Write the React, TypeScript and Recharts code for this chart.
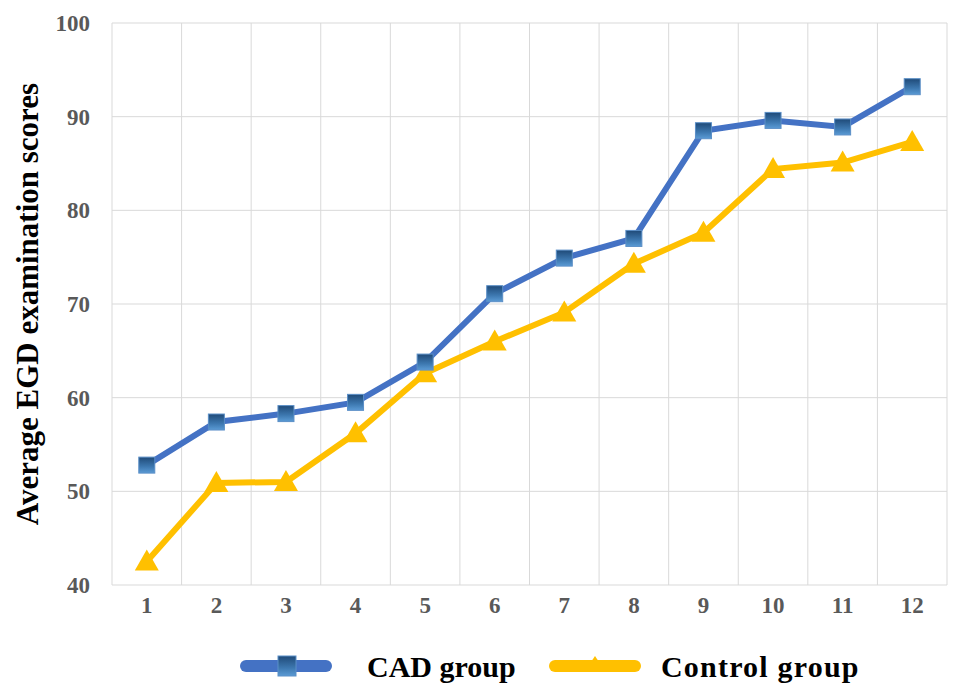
import { CartesianGrid, Legend, Line, LineChart, XAxis, YAxis } from "recharts";

const sessions = [1, 2, 3, 4, 5, 6, 7, 8, 9, 10, 11, 12];
const cadScores = [52.8, 57.4, 58.3, 59.5, 63.8, 71.1, 74.9, 77.0, 88.5, 89.6, 88.9, 93.2];
const controlScores = [42.5, 50.9, 51.0, 56.2, 62.6, 66.0, 69.1, 74.3, 77.6, 84.4, 85.1, 87.3];
const yTicks = [40, 50, 60, 70, 80, 90, 100];

const data = sessions.map((s, i) => ({
  session: s,
  cad: cadScores[i],
  control: controlScores[i],
}));

const FONT = '"Liberation Serif", "Times New Roman", serif';
const BLUE = "#4472c4";
const YELLOW = "#ffc000";

function SquareDot(props: any) {
  const { cx, cy } = props;
  if (cx == null || cy == null) return null;
  return (
    <rect
      x={cx - 8}
      y={cy - 8}
      width={16}
      height={16}
      fill="url(#cadSquare)"
      stroke="#5b8fc7"
      strokeWidth={1}
    />
  );
}

function TriangleDot(props: any) {
  const { cx, cy } = props;
  if (cx == null || cy == null) return null;
  return (
    <path
      d={`M${cx},${cy - 12} L${cx + 12},${cy + 9} L${cx - 12},${cy + 9} Z`}
      fill={YELLOW}
    />
  );
}

function LegendIcon({ color, kind }: { color: string; kind: "square" | "triangle" }) {
  return (
    <svg width={92} height={24} style={{ position: "absolute", top: 9 }}>
      <defs>
        <linearGradient id="legSquare" x1="0" y1="0" x2="0" y2="1">
          <stop offset="0%" stopColor="#1f4a78" />
          <stop offset="60%" stopColor="#3d78b0" />
          <stop offset="100%" stopColor="#5b9bd5" />
        </linearGradient>
      </defs>
      <line x1={6} y1={12} x2={86} y2={12} stroke={color} strokeWidth={12} strokeLinecap="round" />
      {kind === "square" ? (
        <rect x={38} y={2} width={18} height={20} fill="url(#legSquare)" stroke="#5b8fc7" />
      ) : (
        <path d="M46,2 L50,8 L42,8 Z" fill={color} />
      )}
    </svg>
  );
}

function ChartLegend() {
  const text = { position: "absolute" as const, top: 0, fontFamily: FONT, fontWeight: 700, fontSize: 30, color: "#000", lineHeight: "43px", whiteSpace: "nowrap" as const };
  return (
    <div style={{ position: "relative", height: 43, width: 949 }}>
      <div style={{ position: "absolute", left: 232, top: 0 }}>
        <LegendIcon color={BLUE} kind="square" />
      </div>
      <span style={{ ...text, left: 359 }}>CAD group</span>
      <div style={{ position: "absolute", left: 541, top: 0 }}>
        <LegendIcon color={YELLOW} kind="triangle" />
      </div>
      <span style={{ ...text, left: 653, letterSpacing: 1.2 }}>Control group</span>
    </div>
  );
}

export default function App() {
  return (
    <LineChart width={949} height={680} data={data} margin={{ top: 15, right: 10, bottom: 0, left: 0 }}>
      <defs>
        <linearGradient id="cadSquare" x1="0" y1="0" x2="0" y2="1">
          <stop offset="0%" stopColor="#1f4a78" />
          <stop offset="60%" stopColor="#3d78b0" />
          <stop offset="100%" stopColor="#5b9bd5" />
        </linearGradient>
      </defs>
      <CartesianGrid
        stroke="#d9d9d9"
        strokeWidth={1}
        verticalCoordinatesGenerator={({ offset }: any) =>
          Array.from({ length: sessions.length + 1 }, (_, i) => offset.left + (offset.width * i) / sessions.length)
        }
      />
      <XAxis
        dataKey="session"
        type="number"
        domain={[0.5, 12.5]}
        ticks={sessions}
        axisLine={false}
        tickLine={false}
        tickSize={0}
        tickMargin={12}
        height={60}
        tick={{ fill: "#595959", fontFamily: FONT, fontWeight: 700, fontSize: 23 }}
      />
      <YAxis
        domain={[40, 100]}
        ticks={yTicks}
        axisLine={false}
        tickLine={false}
        tickSize={0}
        tickMargin={22}
        width={104}
        tick={{ fill: "#595959", fontFamily: FONT, fontWeight: 700, fontSize: 23 }}
        label={{
          value: "Average EGD examination scores",
          angle: -90,
          position: "insideLeft",
          offset: 19,
          style: { textAnchor: "middle", fill: "#000", fontFamily: FONT, fontWeight: 700, fontSize: 31 },
        }}
      />
      <Legend verticalAlign="bottom" content={() => <ChartLegend />} />
      <Line
        dataKey="control"
        name="Control group"
        stroke={YELLOW}
        strokeWidth={6}
        dot={<TriangleDot />}
        activeDot={false}
        isAnimationActive={false}
      />
      <Line
        dataKey="cad"
        name="CAD group"
        stroke={BLUE}
        strokeWidth={6}
        dot={<SquareDot />}
        activeDot={false}
        isAnimationActive={false}
      />
    </LineChart>
  );
}
